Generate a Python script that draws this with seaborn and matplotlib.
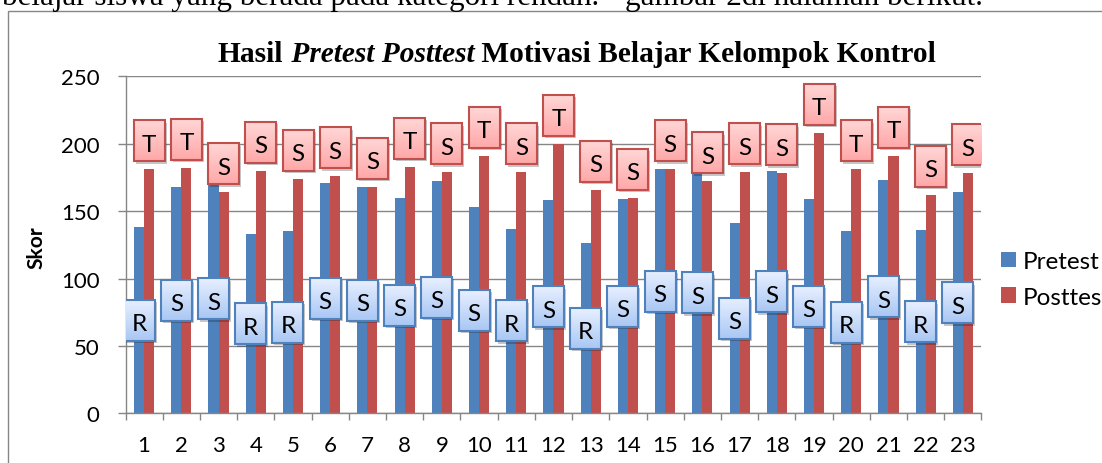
import numpy as np
import pandas as pd
import matplotlib
matplotlib.use("Agg")
import matplotlib.pyplot as plt
import seaborn as sns
from matplotlib.patches import Rectangle, Patch
from matplotlib.colors import LinearSegmentedColormap

# data
students = [str(i) for i in range(1, 24)]
pretest = [138, 168, 170, 133, 135, 171, 168, 160, 172, 153, 137, 158,
           126, 159, 181, 179, 141, 180, 159, 135, 173, 136, 164]
posttest = [181, 182, 164, 180, 174, 176, 168, 183, 179, 191, 179, 200,
            166, 160, 181, 172, 179, 178, 208, 181, 191, 162, 178]
pre_cat = list("RSSRRSSSSSRSRSSSSSSRSRS")
post_cat = list("TTSSSSSTSTSTSSSSSSTTTSS")
series = ["Pretest", "Posttest"]
colors = ["#4F81BD", "#C0504D"]

W, H, DPI = 1102, 464, 100
GRAY = "#868686"

sns.set_theme(style="white")
plt.rcParams["font.family"] = ["Lato", "DejaVu Sans"]
plt.rcParams["text.color"] = "black"
plt.rcParams["xtick.color"] = GRAY
plt.rcParams["ytick.color"] = GRAY
plt.rcParams["xtick.labelcolor"] = "black"
plt.rcParams["ytick.labelcolor"] = "black"

fig = plt.figure(figsize=(W / DPI, H / DPI), dpi=DPI)


def fbox(x0, y0, x1, y1):
    # pixel box (top-left origin) -> figure fraction rect
    return [x0 / W, 1 - y1 / H, (x1 - x0) / W, (y1 - y0) / H]


AX_L, AX_T, AX_R, AX_B = 125.5, 77.3, 981.5, 414.3
ax = fig.add_axes(fbox(AX_L, AX_T, AX_R, AX_B))

df = pd.DataFrame({
    "Siswa": students * 2,
    "Skor": pretest + posttest,
    "Tes": [series[0]] * len(students) + [series[1]] * len(students),
})
sns.barplot(data=df, x="Siswa", y="Skor", hue="Tes", order=students,
            hue_order=series, palette=colors, saturation=1, width=0.54,
            gap=0, dodge=True, errorbar=None, legend=False, linewidth=0,
            ax=ax, zorder=2)

ax.set_yticks(range(0, 251, 50))
ax.set_axisbelow(True)
ax.yaxis.grid(True, color=GRAY, lw=1)
ax.xaxis.grid(False)
ax.set_xlabel("")
ax.set_ylabel("")
for s in ["top", "right"]:
    ax.spines[s].set_visible(False)
for s in ["left", "bottom"]:
    ax.spines[s].set_color(GRAY)
    ax.spines[s].set_linewidth(1)

ax.set_xticks(np.arange(len(students) + 1) - 0.5, minor=True)
ax.tick_params(axis="x", which="major", length=0, labelsize=16, pad=15.5)
ax.tick_params(axis="x", which="minor", length=5, width=1, color=GRAY, bottom=True)
ax.tick_params(axis="y", which="major", length=6.1, width=1, color=GRAY,
               left=True, labelsize=16, pad=12.6)

# data labels
xpx = (AX_R - AX_L) / len(students)   # px per category
ypx = (AX_B - AX_T) / 250             # px per score unit
bw, bh = 31 / xpx, 41 / ypx
sdx, sdy = 2 / xpx, 2.5 / ypx
grad = np.linspace(0, 1, 64).reshape(-1, 1)


def label_box(xc, yc, letter, top_col, bot_col, edge):
    x0, y0 = xc - bw / 2, yc - bh / 2
    ax.add_patch(Rectangle((x0 + sdx, y0 - sdy), bw, bh, fc="black",
                           alpha=0.22, lw=0, zorder=3))
    cmap = LinearSegmentedColormap.from_list("g", [bot_col, top_col])
    ax.imshow(grad, extent=[x0, x0 + bw, y0, y0 + bh], origin="lower",
              cmap=cmap, aspect="auto", zorder=4, interpolation="bilinear")
    ax.add_patch(Rectangle((x0, y0), bw, bh, fc="none", ec=edge, lw=1.5,
                           zorder=5))
    ax.text(xc, yc - 10 / ypx, letter, ha="center", va="baseline",
            fontsize=17.5, color="black", zorder=6)


off = 0.54 / 4
for i in range(len(students)):
    label_box(i - off, pretest[i] / 2, pre_cat[i], "#E8F0FF", "#A9C7F4", colors[0])
    label_box(i + off, posttest[i] + (8 + 20.5) / ypx, post_cat[i],
              "#FFD6D6", "#FFA8A8", colors[1])

ax.set_xlim(-0.5, len(students) - 0.5)
ax.set_ylim(0, 250)

# title: bold with italic middle part
tkw = dict(fontsize=21.2, fontweight="bold", family="Liberation Serif")
t1 = fig.text(218 / W, 1 - 62 / H, "Hasil", va="baseline", ha="left", **tkw)
t2 = ax.annotate(" Pretest Posttest", xy=(1, 0), xycoords=t1, va="bottom",
                 ha="left", style="italic", **tkw)
ax.annotate(" Motivasi Belajar Kelompok Kontrol", xy=(1, 0), xycoords=t2,
            va="bottom", ha="left", **tkw)

fig.text(36 / W, 1 - 248 / H, "Skor", rotation=90, fontweight="bold",
         fontsize=15, ha="center", va="center")

handles = [Patch(fc=c, ec="none", label=s) for s, c in zip(series, colors)]
fig.legend(handles=handles, loc="center left",
           bbox_to_anchor=(1000.7 / W, 1 - 280.3 / H), frameon=False,
           fontsize=17.5, handlelength=0.62, handleheight=0.62,
           handletextpad=0.3, labelspacing=0.6, borderpad=0,
           borderaxespad=0)

# surrounding document: cut-off text line and chart frame
fig.text(2 / W, 1 - 5 / H, "belajar siswa yang berada pada kategori rendah.",
         family="Liberation Serif", fontsize=22.4, va="baseline")
fig.text(625 / W, 1 - 5 / H, "gambar 2di halaman berikut.",
         family="Liberation Serif", fontsize=22.4, va="baseline")
fig.add_artist(Rectangle((7.5 / W, -0.1), 2, 1 - 12 / H + 0.1,
                         transform=fig.transFigure, fill=False, ec=GRAY, lw=1))

fig.savefig("out.png", dpi=DPI)
